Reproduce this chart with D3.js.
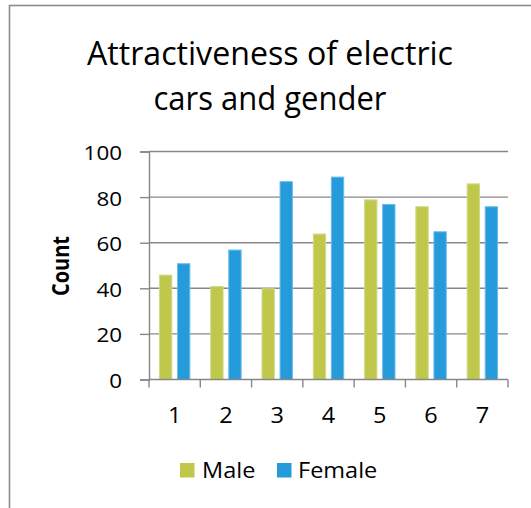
<!DOCTYPE html>
<html>
<head>
<meta charset="utf-8">
<script src="https://cdn.jsdelivr.net/npm/d3@7"></script>
<style>
  html, body { margin: 0; padding: 0; background: #fff; }
  svg { display: block; }
  text { font-family: "Open Sans", "Noto Sans", sans-serif; fill: #000; }
</style>
</head>
<body>
<svg id="chart" width="531" height="508"></svg>
<script>
// ---- data ----
const categories = ["1", "2", "3", "4", "5", "6", "7"];
const seriesNames = ["Male", "Female"];
const maleValues = [46, 41, 40, 64, 79, 76, 86];
const femaleValues = [51, 57, 87, 89, 77, 65, 76];
const yTicks = [0, 20, 40, 60, 80, 100];
const titleLines = ["Attractiveness of electric", "cars and gender"];
const yAxisTitle = "Count";

// ---- layout ----
const W = 531, H = 508;
const plot = { left: 149, right: 508, top: 151.5, bottom: 379.5 };
const colors = { Male: "#BFC84A", Female: "#259BDB" };
const strokeColors = { Male: "#D3D98A", Female: "#6DBDE8" };
const SX = 1.12; // horizontal glyph stretch of the original rendering

const svg = d3.select("#chart");

// outer frame (only left/top visible)
svg.append("rect")
  .attr("x", 9.5).attr("y", 5.5)
  .attr("width", W + 20).attr("height", H + 20)
  .attr("fill", "#fff")
  .attr("stroke", "#8C8C8C").attr("stroke-width", 1.6);

function stretchedText(sel, x, y, sx, extra) {
  return sel.attr("x", 0).attr("y", 0)
    .attr("transform", `translate(${x},${y}) scale(${sx},1)` + (extra || ""));
}

// title
titleLines.forEach((line, i) => {
  svg.append("text")
    .attr("x", 270).attr("y", 65 + i * 45)
    .attr("text-anchor", "middle")
    .attr("font-size", 32)
    .attr("textLength", i === 0 ? 366 : 233)
    .attr("lengthAdjust", "spacingAndGlyphs")
    .text(line);
});

// scales
const x0 = d3.scaleBand().domain(categories).range([plot.left, plot.right]).padding(0);
const x1 = d3.scaleBand().domain(seriesNames).range([0, x0.bandwidth()])
  .paddingInner(0.26).paddingOuter(0.55);
const y = d3.scaleLinear().domain([0, 100]).range([plot.bottom, plot.top]);

// gridlines
svg.append("g").selectAll("line").data(yTicks.filter(d => d > 0)).join("line")
  .attr("x1", plot.left).attr("x2", plot.right)
  .attr("y1", d => y(d)).attr("y2", d => y(d))
  .attr("stroke", "#878787").attr("stroke-width", 1.4);

// bars
const data = categories.map((c, i) => ({ cat: c, Male: maleValues[i], Female: femaleValues[i] }));
const groups = svg.append("g").selectAll("g").data(data).join("g")
  .attr("transform", d => `translate(${x0(d.cat)},0)`);
groups.selectAll("rect")
  .data(d => seriesNames.map(s => ({ s, v: d[s] })))
  .join("rect")
  .attr("x", d => x1(d.s) + 0.5)
  .attr("width", x1.bandwidth() - 1)
  .attr("y", d => y(d.v) + 0.5)
  .attr("height", d => y(0) - y(d.v) - 0.5)
  .attr("fill", d => colors[d.s])
  .attr("stroke", d => strokeColors[d.s])
  .attr("stroke-width", 1);

// y axis
const yAxis = d3.axisLeft(y).tickValues(yTicks).tickSize(9).tickPadding(0).tickFormat(d3.format("d"));
const gy = svg.append("g").attr("transform", `translate(${plot.left},0)`).call(yAxis);
gy.select(".domain").attr("stroke", "#878787").attr("stroke-width", 1.4);
gy.selectAll(".tick line").attr("stroke", "#878787").attr("stroke-width", 1.4);
gy.attr("font-family", null).attr("font-size", null);
gy.selectAll(".tick text").each(function () {
  const t = d3.select(this);
  t.attr("font-size", 20).attr("text-anchor", "end").attr("dy", null).attr("fill", "#000");
  stretchedText(t, 122 - plot.left, 8, SX);
});

// x axis
const xAxis = d3.axisBottom(x0).tickSize(0).tickPadding(0);
const gx = svg.append("g").attr("transform", `translate(0,${plot.bottom})`).call(xAxis);
gx.select(".domain").remove();
gx.attr("font-family", null).attr("font-size", null);
gx.selectAll(".tick text").each(function () {
  const t = d3.select(this);
  t.attr("font-size", 21).attr("text-anchor", "middle").attr("dy", null).attr("fill", "#000");
  stretchedText(t, 0, 43, SX);
});
// x axis line + boundary ticks
svg.append("line")
  .attr("x1", plot.left).attr("x2", plot.right)
  .attr("y1", y(0)).attr("y2", y(0))
  .attr("stroke", "#878787").attr("stroke-width", 1.4);
svg.append("g").selectAll("line")
  .data(categories.map(c => x0(c)).concat([x0(categories[categories.length - 1]) + x0.bandwidth()]))
  .join("line")
  .attr("x1", d => d).attr("x2", d => d)
  .attr("y1", y(0)).attr("y2", y(0) + 8)
  .attr("stroke", "#878787").attr("stroke-width", 1.4);

// y axis title
stretchedText(svg.append("text"), 69, 266, 1.2, " rotate(-90)")
  .attr("text-anchor", "middle")
  .attr("font-size", 20).attr("font-weight", "bold")
  .text(yAxisTitle);

// legend
const legendItems = [
  { name: "Male", sx: 180, tx: 202 },
  { name: "Female", sx: 277, tx: 298 }
];
const lg = svg.append("g");
legendItems.forEach(it => {
  lg.append("rect").attr("x", it.sx).attr("y", 463).attr("width", 14.5).attr("height", 14.5)
    .attr("fill", colors[it.name]);
  stretchedText(lg.append("text"), it.tx, 478, SX)
    .attr("font-size", 21).text(it.name);
});
</script>
</body>
</html>
